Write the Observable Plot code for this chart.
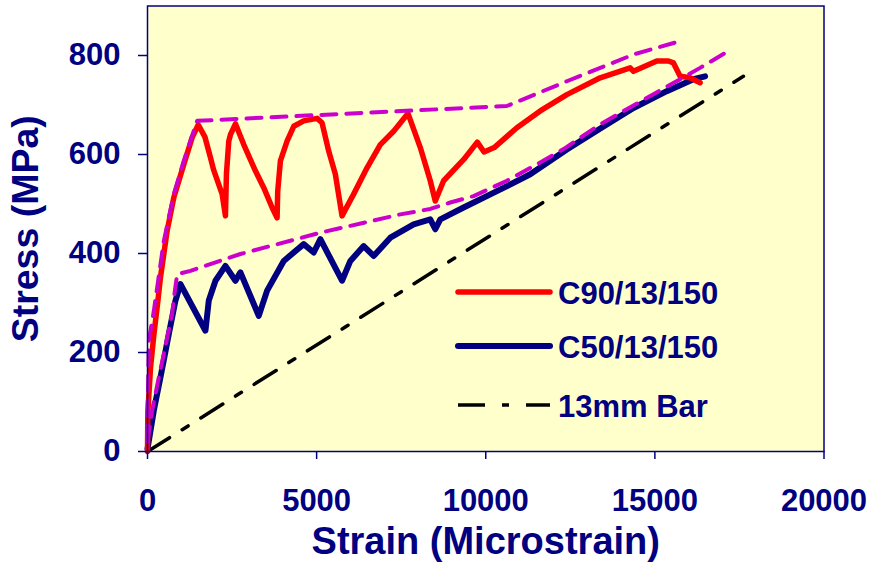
<!DOCTYPE html>
<html><head><meta charset="utf-8">
<script src="https://cdn.jsdelivr.net/npm/d3@7"></script>
<script src="https://cdn.jsdelivr.net/npm/@observablehq/plot@0.6"></script>
<style>body{margin:0;background:#fff;}#chart{width:872px;height:569px;}</style>
</head><body><div id="chart"></div>
<script>
const xTicks = [0, 5000, 10000, 15000, 20000];
const yTicks = [0, 200, 400, 600, 800];
const xLabel = "Strain (Microstrain)";
const yLabel = "Stress (MPa)";
const seriesNames = ["C90/13/150", "C50/13/150", "13mm Bar"];

const c90Strain = [0,10,90,190,300,384,581,778,1073,1319,1500,1700,1861,1950,2206,2304,2334,2403,2452,2600,2846,3190,3437,3683,3831,3850,3929,4126,4323,4618,5013,5160,5357,5554,5751,6095,6490,6883,7277,7700,8065,8360,8508,8754,9350,9750,9950,10250,10920,11610,12398,13383,14269,14368,15057,15401,15550,15746,16041,16337];
const c90Stress = [0,80,170,237,300,352,446,513,580,634,660,635,594,570,520,476,561,627,640,662,620,567,533,493,472,526,587,627,657,668,673,664,607,560,476,520,573,620,647,683,614,547,506,547,590,625,605,614,654,688,721,755,775,768,789,789,785,758,755,745];

const c50Strain = [0,187,384,630,827,975,1713,1812,2009,2304,2600,2747,3289,3536,4028,4618,4914,5111,5751,5997,6391,6686,7179,7868,8360,8508,8656,9345,10330,11315,12398,13400,14368,15353,16139,16484];
const c50Stress = [5,83,150,237,305,338,244,305,345,375,345,362,274,325,385,419,402,429,345,385,415,395,432,459,469,449,469,493,526,560,610,653,694,728,752,758];

const barStrain = [0, 17617];
const barStress = [0, 758];

const upperEnvStrain = [0,10,40,187,482,778,1073,1467,10625,12398,14368,15746];
const upperEnvStress = [22,103,224,284,425,520,587,668,698,748,802,829];

const lowerEnvStrain = [0,138,335,482,728,800,877,1270,2747,5111,7474,8360,8951,9640,10625,11610,12300,13383,16337,17174];
const lowerEnvStress = [20,83,150,197,278,320,358,365,399,442,479,490,503,516,547,584,611,661,775,809];

const toPts = (xs, ys) => xs.map((x, i) => ({x, y: ys[i]}));
const c90 = toPts(c90Strain, c90Stress);
const c50 = toPts(c50Strain, c50Stress);
const bar = toPts(barStrain, barStress);
const upperEnv = toPts(upperEnvStrain, upperEnvStress);
const lowerEnv = toPts(lowerEnvStrain, lowerEnvStress);

const navy = "#000080", red = "#FF0000", magenta = "#CC00CC";
const font = "'Liberation Sans', Arial, Helvetica, sans-serif";

const chart = Plot.plot({
  width: 872, height: 569,
  marginLeft: 147, marginRight: 48.5, marginTop: 5.5, marginBottom: 118,
  style: {fontFamily: font, fontWeight: "bold", color: navy, background: "#ffffff", overflow: "visible"},
  x: {domain: [0, 20000]},
  y: {domain: [0, 900]},
  marks: [
    Plot.frame({fill: "#FFFFCC", stroke: null}),
    Plot.line(bar, {x: "x", y: "y", stroke: "#000000", strokeWidth: 3.5, strokeDasharray: "26,15,7,15"}),
    Plot.line(c50, {x: "x", y: "y", stroke: navy, strokeWidth: 6, strokeLinejoin: "round", strokeLinecap: "round"}),
    Plot.line(c90, {x: "x", y: "y", stroke: red, strokeWidth: 5.5, strokeLinejoin: "round", strokeLinecap: "round"}),
    Plot.line(upperEnv, {x: "x", y: "y", stroke: magenta, strokeWidth: 4, strokeDasharray: "15,10"}),
    Plot.line(lowerEnv, {x: "x", y: "y", stroke: magenta, strokeWidth: 4, strokeDasharray: "15,10"}),
    Plot.frame({stroke: navy, strokeWidth: 1.5}),
    Plot.axisX({ticks: xTicks, tickSize: 8, tickPadding: 29, fontSize: 31, tickFormat: d => String(d), label: null, stroke: navy, strokeWidth: 1.5}),
    Plot.axisY({ticks: yTicks, tickSize: 9, tickPadding: 18, fontSize: 31, tickFormat: d => String(d), label: null, stroke: navy, strokeWidth: 1.5}),
    Plot.text([xLabel], {frameAnchor: "bottom", dy: 90, lineAnchor: "middle", textAnchor: "middle", text: d => d, fontSize: 38, fontWeight: "bold", fill: navy}),
    Plot.text([yLabel], {frameAnchor: "left", dx: -122, lineAnchor: "middle", textAnchor: "middle", text: d => d, rotate: -90, fontSize: 37.5, fontWeight: "bold", fill: navy})
  ]
});
document.getElementById("chart").appendChild(chart);

// Legend inside the plot area
const legendItems = [
  {name: seriesNames[0], color: red, width: 5.5, dash: null},
  {name: seriesNames[1], color: navy, width: 6, dash: null},
  {name: seriesNames[2], color: "#000000", width: 3.5, dash: "27,17,7,17"}
];
const legendRowY = [292, 346, 405];
const svg = d3.select(chart);
const g = svg.append("g").attr("font-family", font).attr("font-weight", "bold").attr("text-anchor", "start");
legendItems.forEach((it, i) => {
  const yy = legendRowY[i];
  g.append("line").attr("x1", 458).attr("x2", 550).attr("y1", yy).attr("y2", yy)
    .attr("stroke", it.color).attr("stroke-width", it.width)
    .attr("stroke-linecap", it.dash ? "butt" : "round")
    .attr("stroke-dasharray", it.dash);
  g.append("text").attr("x", 558).attr("y", yy + 12).attr("font-size", 31)
    .attr("text-anchor", "start")
    .attr("fill", navy).text(it.name);
});
</script>
</body></html>
